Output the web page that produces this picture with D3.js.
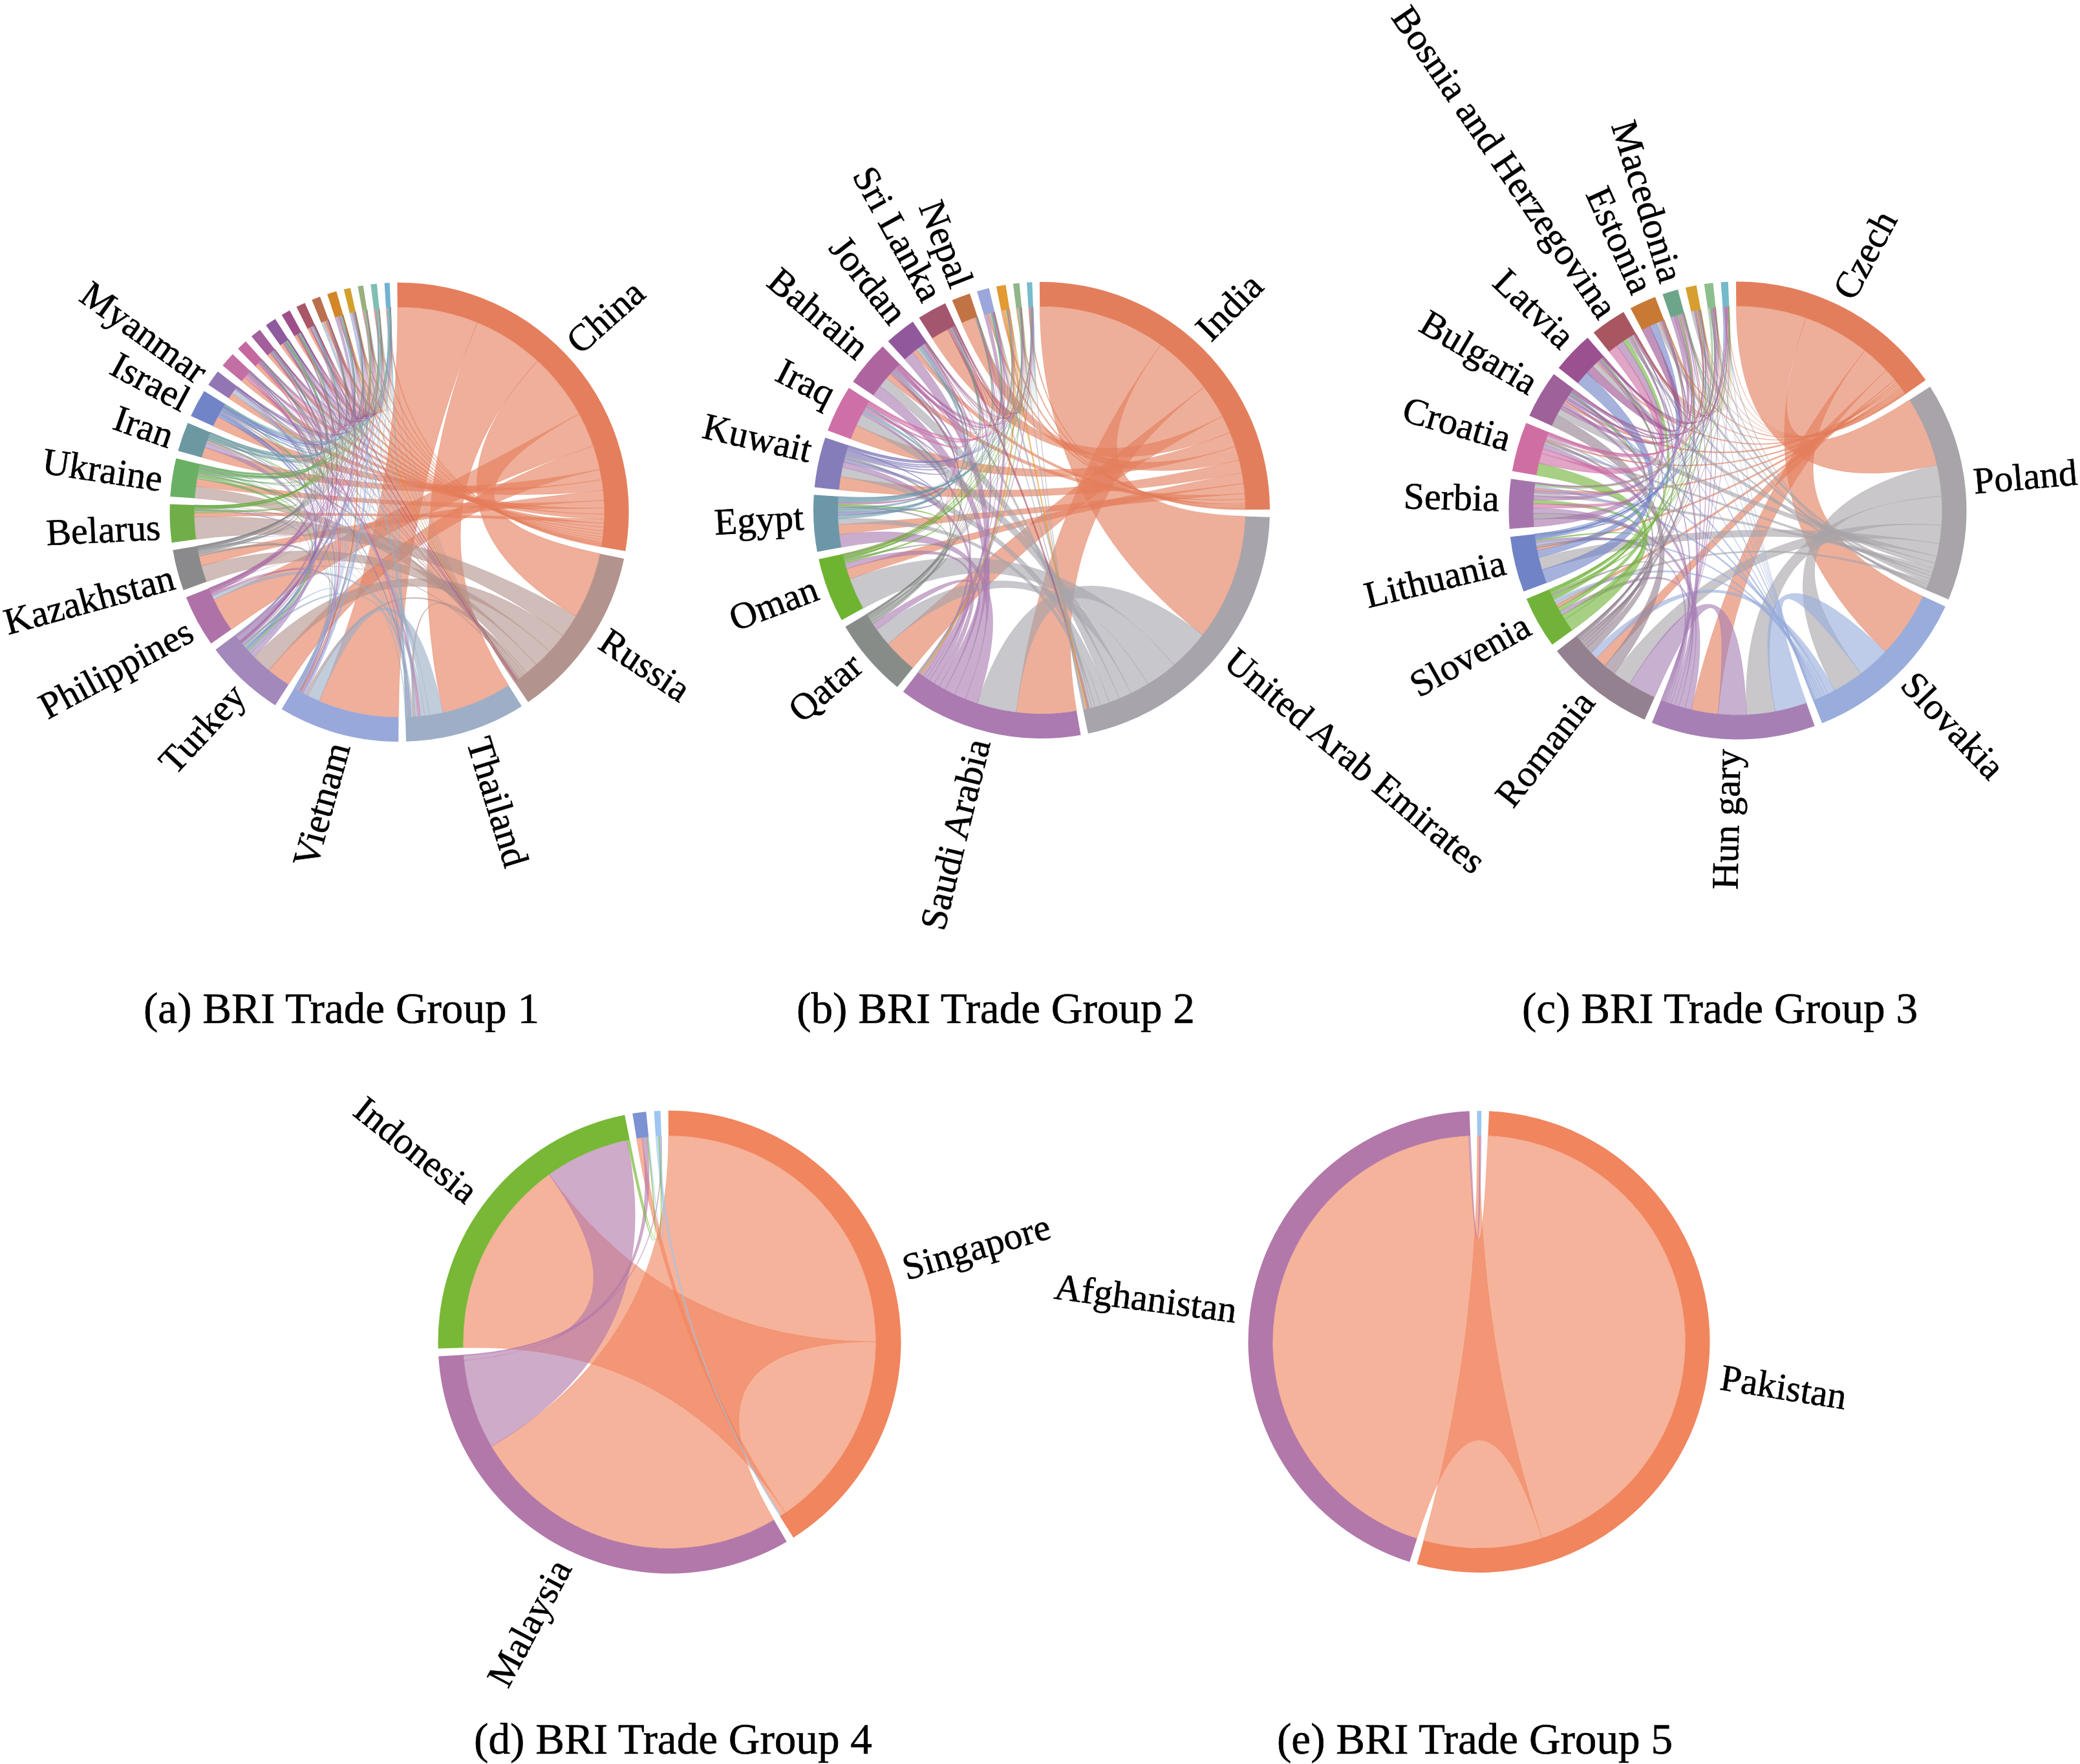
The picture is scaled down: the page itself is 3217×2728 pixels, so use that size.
<!DOCTYPE html>
<html>
<head>
<meta charset="utf-8">
<script src="https://cdn.jsdelivr.net/npm/d3@7/dist/d3.min.js"></script>
<style>
html,body{margin:0;padding:0;background:#fff}
svg{display:block}
text{font-family:"Liberation Serif","Times New Roman",serif;fill:#000;stroke:#000;stroke-width:0.6px}
</style>
</head>
<body>
<svg id="chart" width="3217" height="2728"></svg>
<script>
// ---------- Group 1 ----------
const namesA = ["China","Russia","Thailand","Vietnam","Turkey","Philippines","Kazakhstan","Belarus","Ukraine","Iran","Israel","Myanmar","","","","","","","","","","","",""];
const colorsA = ["#E57E5C","#B3938D","#9DAEC6","#98A8DB","#A388BB","#AF72A8","#8A8A8C","#70AE47","#6AB064","#6C98A2","#7184C8","#9276B3","#C46FA4","#C5689F","#A35E9C","#8E5B9F","#9E4F8A","#A85668","#BA6F4E","#D38628","#D3A02E","#98B07C","#7FBFB5","#72B2D2"];
const flowsA = [
[0,18.6,19.7,22.5,6.7,9.6,2.8,1.1,2.1,2.9,2.9,1.7,1.4,1.1,1,.9,.8,.7,.6,.35,.3,.25,.3,.25],
[18.5,0,.7,.8,5.7,.2,5.2,6.4,3.5,.65,.3,.1,.2,.1,.2,.1,.1,.2,.1,.1,.1,.05,.05,.05],
[19.6,.6,0,3.8,.6,1.2,.05,.02,.1,.1,.2,1.3,.7,.1,.1,.1,.1,.2,.7,.1,.1,.1,.1,.05],
[22.4,.8,3.4,0,.3,.4,.05,.05,.1,.1,.2,.2,.25,.1,.1,.1,.1,.1,.3,.2,.6,.1,.1,.05],
[6.6,5.6,.5,.3,0,.1,.5,.3,.6,1.4,.6,.1,.2,.2,.3,.3,.3,.3,.1,.8,.3,.3,.3,.1],
[9.5,.1,1.1,.6,.05,0,.02,.02,.05,.02,.1,.1,.2,.05,.05,.05,.05,.1,.3,.1,.1,.1,.1,.05],
[2.8,4.6,.05,.1,.6,.02,0,.2,.5,.4,.1,.02,.05,.1,.1,.15,.1,.05,.05,.05,.05,.05,.02,.02],
[1.1,6.2,.02,.05,.2,.02,.2,0,.6,.05,.05,.02,.05,.05,.1,.2,.15,.1,.05,.05,.05,.05,.05,.05],
[2.1,3.3,.1,.15,.8,.05,.4,.5,0,.2,.25,.05,.1,.1,.15,.2,.15,.1,.1,.2,.1,.1,.2,.1],
[2.9,.6,.1,.1,1.4,.02,.3,.05,.2,0,.01,.02,.1,.05,.3,.3,.1,.05,.05,.2,.1,.1,.15,.1],
[2.9,.3,.4,.4,.7,.1,.05,.05,.25,.01,0,.05,.3,.2,.1,.15,.1,.1,.1,.3,.1,.1,.1,.05],
[1.7,.1,1.2,.2,.1,.1,.01,.01,.02,.02,.03,0,.15,.02,.02,.02,.02,.05,.1,.05,.02,.02,.02,.01],
[1.4,.2,.8,.3,.2,.2,.02,.03,.05,.05,.15,.1,0,.02,.01,.01,.01,.03,.05,.03,.02,.02,.01,.01],
[1.1,.2,.15,.15,.3,.05,.05,.05,.1,.05,.2,.02,.02,0,.02,.02,.02,.02,.02,.03,.01,.01,.01,.01],
[1,.2,.1,.1,.4,.03,.05,.05,.2,.3,.05,.01,.01,.01,0,.03,.01,.01,.01,.01,.01,.01,.01,.01],
[.9,.2,.1,.1,.5,.02,.1,.2,.2,.25,.05,.01,.01,.01,.02,0,.01,.01,.01,.01,.01,.01,.01,.01],
[.8,.2,.1,.1,.35,.03,.08,.12,.15,.1,.08,.01,.01,.02,.01,.01,0,.02,.01,.02,.01,.01,.01,.01],
[.7,.3,.2,.1,.3,.1,.03,.08,.1,.05,.1,.05,.03,.02,.01,.01,.02,0,.02,.02,.01,.01,.01,.01],
[.6,.05,.7,.35,.05,.15,.01,.01,.03,.02,.05,.03,.02,.01,.01,.01,.01,.01,0,.01,.01,.01,.01,.01],
[.35,.2,.1,.15,.8,.05,.03,.03,.15,.1,.25,.02,.02,.01,.01,.01,.01,.01,.01,0,.01,.01,.01,.01],
[.3,.1,.05,.6,.2,.04,.02,.02,.08,.08,.06,.01,.01,.01,.01,.01,.01,.01,.01,.01,0,.01,.01,.01],
[.25,.05,.05,.1,.25,.04,.02,.02,.1,.15,.15,.01,.02,.01,.01,.01,.01,.01,.01,.01,.01,0,.02,.01],
[.3,.05,.1,.1,.3,.05,.02,.02,.15,.15,.12,.01,.02,.02,.01,.01,.01,.01,.01,.01,.01,.03,0,.01],
[.25,.05,.08,.1,.2,.05,.02,.02,.1,.12,.12,.01,.02,.02,.01,.01,.01,.01,.01,.01,.02,.02,.02,0]
];
// ---------- Group 2 ----------
const namesB = ["India","United Arab Emirates","Saudi Arabia","Qatar","Oman","Egypt","Kuwait","Iraq","Bahrain","Jordan","Sri Lanka","Nepal","","","",""];
const colorsB = ["#E37E5C","#A7A4AC","#AA7AB0","#878C88","#6EB431","#6C97A9","#857DB9","#CE6FA7","#AE659F","#91599C","#A5566F","#C27344","#9BA6DB","#E29A33","#90B588","#77BCCB"];
const flowsB = [
[0,36,17,9.6,3,2.8,3.7,4.2,1.6,1.3,5,3.9,.5,.5,.35,.3],
[35.8,0,11.6,5.4,9,1.6,2.6,3.6,3,.9,.6,.3,.7,.4,.3,.2],
[16.9,11.2,0,1.9,1.6,3.6,1.6,.8,3.2,3,.9,.3,1,.4,.3,.2],
[9.6,5.2,1.9,0,.4,.7,.8,.3,.5,.15,.1,.05,.1,.05,.05,.05],
[3,9,1.6,.4,0,.5,.2,.15,.15,.1,.2,.1,.2,.25,.25,.2],
[2.8,1.6,3.6,.5,.5,0,.8,.7,.5,1.1,.4,.1,.6,.4,.4,.3],
[3.7,2.6,1.6,.6,.3,1.1,0,.5,.5,.5,.4,.2,.3,.2,.1,.1],
[4.2,3.4,.8,.3,.2,.7,.5,0,.2,.6,.2,.1,.3,.2,.1,.1],
[1.6,2.9,3.2,.5,.2,.6,.5,.2,0,.4,.3,.1,.5,.2,.2,.1],
[1.3,.9,3,.1,.1,.8,.5,.5,.2,0,.1,.05,.1,.05,.1,.05],
[5,.8,.4,.1,.1,.2,.1,.1,.1,.05,0,.05,.2,.1,.1,.05],
[3.9,.2,.15,.05,.08,.07,.05,.05,.05,.02,.03,0,.03,.02,.02,.01],
[.5,.5,1,.05,.2,.2,.2,.1,.15,.1,.05,.02,0,.01,.01,.01],
[.5,.5,.5,.05,.1,.1,.1,.1,.1,.1,.05,.1,.05,0,.02,.01],
[.35,.2,.35,.05,.1,.1,.1,.05,.05,.05,.05,.05,.02,.02,0,.02],
[.3,.15,.2,.05,.1,.1,.1,.1,.05,.05,.03,.05,.02,.02,.02,0]
];
// ---------- Group 3 ----------
const namesC = ["Czech","Poland","Slovakia","Hun gary","Romania","Slovenia","Lithuania","Serbia","Croatia","Bulgaria","Latvia","Bosnia and Herzegovina","Estonia","Macedonia","","",""];
const colorsC = ["#E37E5C","#A8A4A9","#98ADDB","#A680B5","#93818F","#71B338","#7083C6","#A674AD","#CF6EA3","#9E6199","#9B5090","#A85660","#C87A34","#6DA58A","#D69F2F","#8DBE8E","#75BACB"];
const flowsC = [
[0,20,18.95,8.2,3.6,.9,.7,.6,.5,.7,.5,.3,.4,.1,.1,.1,.1],
[19.9,0,8.9,8.2,5.2,.8,3.6,1.2,1,2,1.5,.7,.9,.4,1,.2,.2],
[18.9,8.8,0,9.2,2.1,.8,.6,1,.6,.6,.2,.3,.1,.1,.1,.1,.1],
[7.6,8.1,9.1,0,8.05,1.2,.6,1.8,1.8,.8,.4,1.1,.3,.3,.3,.2,.1],
[3.2,5.2,2.1,8,0,.5,.8,1.9,.9,3.4,.3,.4,.2,.9,.2,.1,.1],
[.9,.8,.8,1.2,.5,0,.4,1.4,3.7,.6,.2,1.2,.2,.6,.2,.3,.2],
[.7,3.6,.6,.6,.7,.4,0,.2,.1,.3,3.9,.05,2,.1,.3,.3,.3],
[.6,.9,.6,1.5,1.6,1.1,.1,0,1.3,.7,.05,2.2,.05,1.1,.2,.4,.2],
[.5,.7,.5,1.3,.6,3.5,.05,1.4,0,.1,.05,2.8,.05,.5,.2,.2,.15],
[.7,1.9,.5,.8,3.4,.4,.3,.7,.1,0,.5,.2,.3,1.1,.6,.3,.3],
[.5,1.4,.2,.4,.3,.2,3.9,.05,.05,.4,0,.05,2.4,.05,.2,.2,.2],
[.3,.6,.3,.6,.4,1.2,.05,2.2,2.7,.2,.05,0,.02,.2,.1,.1,.1],
[.4,.9,.1,.3,.2,.1,2,.05,.05,.2,2.4,.02,0,.02,.03,.02,.01],
[.1,.2,.1,.2,.6,.3,.05,1,.3,.8,.05,.1,.02,0,.1,.05,.03],
[.1,.9,.1,.2,.2,.1,.1,.3,.1,.5,.05,.05,.02,.03,0,.02,.01],
[.1,.2,.1,.2,.1,.2,.2,.5,.2,.2,.1,.05,.02,.03,.02,0,.02],
[.1,.2,.1,.1,.1,.1,.3,.2,.15,.2,.15,.05,.01,.03,.01,.02,0]
];
// ---------- Group 4 ----------
const namesD = ["Singapore","Malaysia","Indonesia","",""];
const colorsD = ["#F1855E","#B278AA","#78B836","#7D92D2","#9DC5F2"];
const flowsD = [
[0,90,55.9,1.5,.3],
[89.9,0,25.2,1.4,.2],
[55.8,23.7,0,.5,.3],
[1.5,1.4,.3,0,.2],
[.8,.2,.3,.3,0]
];
// ---------- Group 5 ----------
const namesE = ["Pakistan","Afghanistan",""];
const colorsE = ["#F1855E","#B278AA","#9DC5F2"];
const flowsE = [
[0,159.9,33.4],
[159.8,0,.5],
[.6,.5,0]
];
// ---------- Panel captions ----------
const captions = ["(a) BRI Trade Group 1","(b) BRI Trade Group 2","(c) BRI Trade Group 3","(d) BRI Trade Group 4","(e) BRI Trade Group 5"];

// Panel placement and label baseline offsets (right-hand / left-hand labels)
const panels = [
  {names:namesA,colors:colorsA,flows:flowsA,cx:617.5,cy:792,R:355,band:38,rot:-0.5,pad:1.9,capX:528,capY:1582,cap:captions[0],dyR:0.08,dyL:0.42,gap:15},
  {names:namesB,colors:colorsB,flows:flowsB,cx:1611,cy:789,R:353,band:38,rot:-0.5,pad:1.88,capX:1540,capY:1582,cap:captions[1],dyR:0.08,dyL:0.15,gap:15},
  {names:namesC,colors:colorsC,flows:flowsC,cx:2687.5,cy:789.5,R:354,band:38,rot:-0.4,pad:1.98,capX:2660,capY:1582,cap:captions[2],dyR:0.1,dyL:0.2,gap:15},
  {names:namesD,colors:colorsD,flows:flowsD,cx:1035.5,cy:2075.5,R:358,band:39,rot:-0.3,pad:1.95,capX:1041,capY:2712,cap:captions[3],dyR:0.2,dyL:0.55,gap:21},
  {names:namesE,colors:colorsE,flows:flowsE,cx:2287.5,cy:2075,R:357,band:38,rot:2.5,pad:1.9,capX:2281,capY:2712,cap:captions[4],dyR:0.25,dyL:0.35,gap:21}
];
// Small corrections of individual labels: along the ring in degrees, and away from it in pixels
const labelNudge = {China:-1.2,Czech:0.8,Kuwait:0.8,Iraq:0.6,Nepal:-0.4,Kazakhstan:-0.5};
const labelPull = {Kazakhstan:-7,"Bosnia and Herzegovina":-6,Poland:-2};

const svg = d3.select("#chart");
const labelSize = 58, captionSize = 67.2;

panels.forEach(p => {
  const inner = p.R - p.band;
  const layout = d3.chord().padAngle(p.pad * Math.PI / 180).sortSubgroups(d3.descending);
  const chords = layout(p.flows);
  const ribbon = d3.ribbon().radius(inner);
  const arc = d3.arc().innerRadius(inner).outerRadius(p.R);
  const g = svg.append("g").attr("transform", `translate(${p.cx},${p.cy}) rotate(${p.rot})`);

  const owner = d => d.source.value >= d.target.value ? d.source.index : d.target.index;
  const isFlipped = d => (((d.startAngle + d.endAngle) / 2 * 180 / Math.PI + p.rot) % 360) > 180;

  g.append("g").selectAll("path").data(chords).join("path")
    .attr("d", ribbon)
    .attr("fill", d => p.colors[owner(d)])
    .attr("fill-opacity", 0.62)
    .attr("stroke", d => p.colors[owner(d)])
    .attr("stroke-opacity", 0.35)
    .attr("stroke-width", 1.1);

  g.append("g").selectAll("path").data(chords.groups).join("path")
    .attr("d", arc)
    .attr("fill", d => p.colors[d.index]);

  g.append("g").selectAll("text").data(chords.groups.filter(d => p.names[d.index])).join("text")
    .attr("font-size", labelSize)
    .attr("dy", d => (isFlipped(d) ? p.dyL : p.dyR) + "em")
    .attr("transform", d => {
      const name = p.names[d.index];
      const a = (d.startAngle + d.endAngle) / 2 * 180 / Math.PI + (labelNudge[name] || 0);
      return `rotate(${a - 90}) translate(${p.R + p.gap + (labelPull[name] || 0)}) ${isFlipped(d) ? "rotate(180)" : ""}`;
    })
    .attr("text-anchor", d => isFlipped(d) ? "end" : "start")
    .text(d => p.names[d.index]);

  svg.append("text")
    .attr("x", p.capX).attr("y", p.capY)
    .attr("text-anchor", "middle")
    .attr("font-size", captionSize)
    .text(p.cap);
});
</script>
</body>
</html>
